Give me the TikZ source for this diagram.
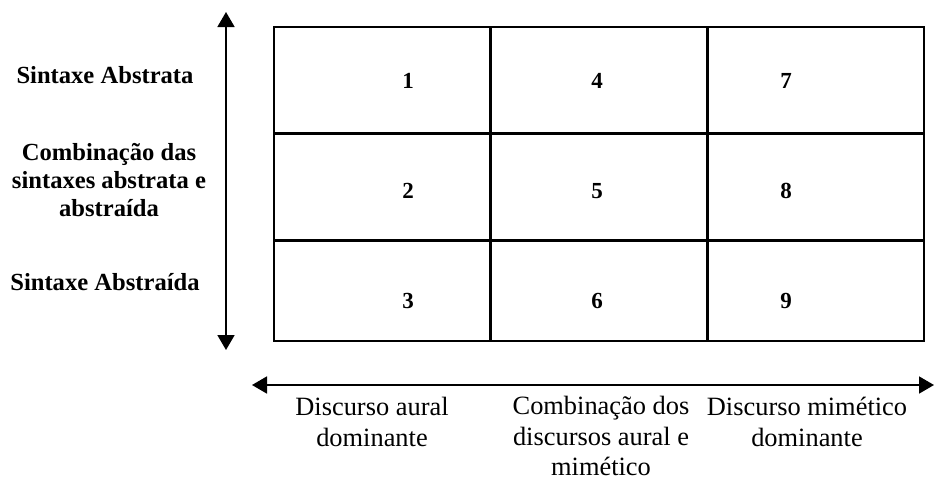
\documentclass[tikz,border=0pt]{standalone}
\usepackage{fontspec}
\setmainfont{Liberation Serif}
\usetikzlibrary{matrix,arrows.meta}
\newcommand{\textrowa}{Sintaxe Abstrata}
\newcommand{\textrowb}{Combinação das\\ sintaxes abstrata e\\ abstraída}
\newcommand{\textrowc}{Sintaxe Abstraída}
\newcommand{\textcola}{Discurso aural\\ dominante}
\newcommand{\textcolb}{Combinação dos\\ discursos aural e\\ mimético}
\newcommand{\textcolc}{Discurso mimético\\ dominante}

\begin{document}
\begin{tikzpicture}[
    cell/.style={draw,line width=0.9pt,minimum width=108pt,minimum height=53pt,inner sep=0pt},
    lastrow/.style={cell,minimum height=50pt},
    num/.style={font=\fontsize{11.5}{12}\selectfont\bfseries,anchor=base},
    rowlab/.style={font=\fontsize{12.3}{14}\selectfont\bfseries,align=center},
    collab/.style={font=\fontsize{13.2}{15.2}\selectfont,align=center,inner sep=1pt},
    axis/.style={line width=0.9pt,{Triangle[length=7.5pt,width=8.5pt]}-{Triangle[length=7.5pt,width=8.5pt]}}
]
\useasboundingbox (0,0) rectangle (467pt,-239.5pt);

\matrix (grid) [matrix of nodes,nodes in empty cells,nodes={cell,anchor=center},column sep=-\pgflinewidth,row sep=-\pgflinewidth,inner sep=0pt,anchor=north west] at (136.5pt,-12.85pt)
{
 & & \\
 & & \\
|[lastrow]| & |[lastrow]| & |[lastrow]| \\
};

\node[num] (n1) at (204pt,-44pt) {1};
\node[num] (n4) at (298.5pt,-44pt) {4};
\node[num] (n7) at (393pt,-44pt) {7};
\node[num] (n2) at (204pt,-99pt) {2};
\node[num] (n5) at (298.5pt,-99pt) {5};
\node[num] (n8) at (393pt,-99pt) {8};
\node[num] (n3) at (204pt,-154pt) {3};
\node[num] (n6) at (298.5pt,-154pt) {6};
\node[num] (n9) at (393pt,-154pt) {9};

\node[rowlab] (rowa) at (52.5pt,-37.5pt) {\textrowa};
\node[rowlab] (rowb) at (54.5pt,-90pt) {\textrowb};
\node[rowlab] (rowc) at (52.5pt,-141pt) {\textrowc};

\node[collab] (cola) at (186pt,-211pt) {\textcola};
\node[collab] (colb) at (300.5pt,-218pt) {\textcolb};
\node[collab] (colc) at (403.5pt,-211pt) {\textcolc};

\coordinate (vtop) at (113pt,-6pt);
\coordinate (vbot) at (113pt,-175pt);
\coordinate (hleft) at (126pt,-192.5pt);
\coordinate (hright) at (467pt,-192.5pt);
\draw[axis] (vtop) -- (vbot);
\draw[axis] (hleft) -- (hright);
\end{tikzpicture}
\end{document}
